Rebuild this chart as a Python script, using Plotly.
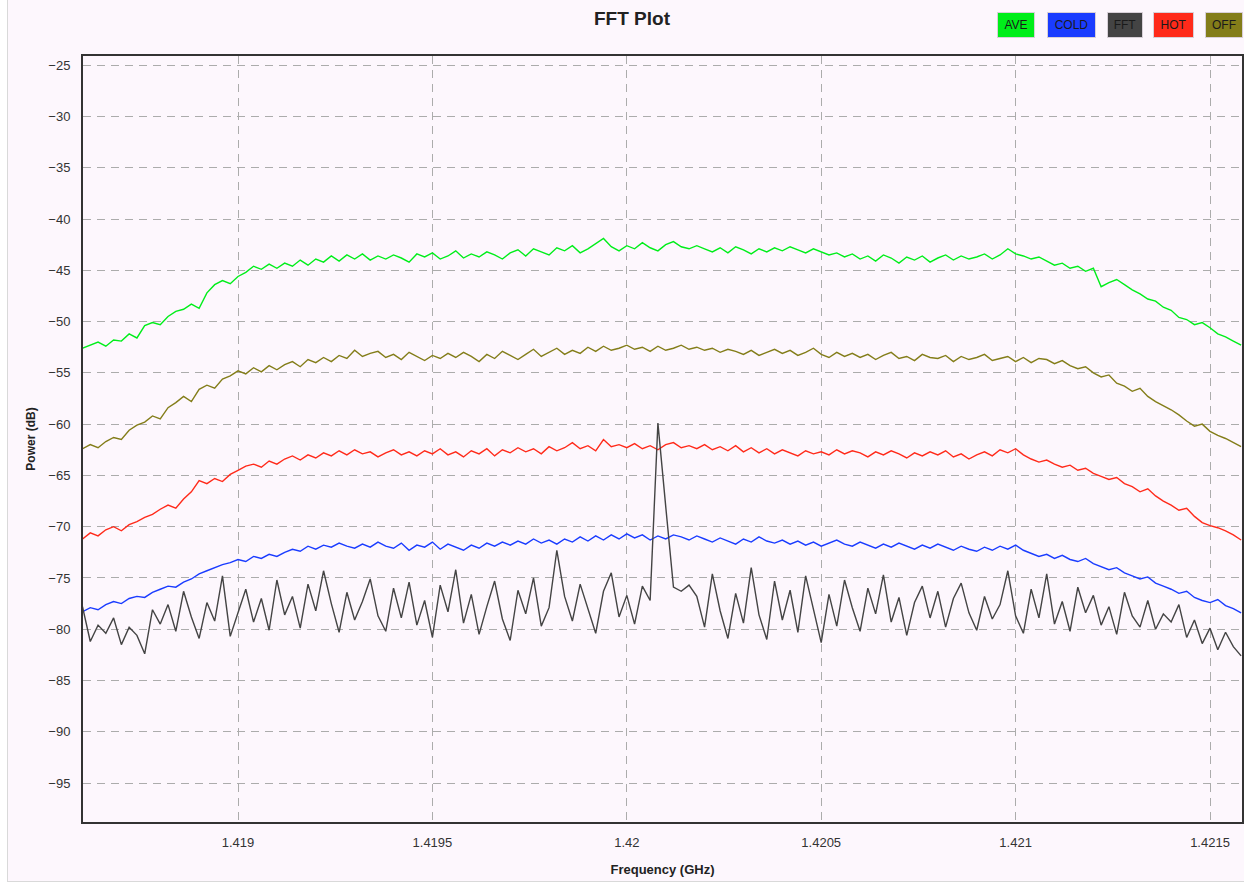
import plotly.graph_objects as go

# ---------------- data ----------------
freq_start = 1.4186      # GHz, first FFT bin shown
freq_step = 0.00002      # GHz per bin (sampled)
n_points = 150
freqs = [round(freq_start + i * freq_step, 6) for i in range(n_points)]

series_names = ["AVE", "COLD", "FFT", "HOT", "OFF"]

ave = [
    -52.6, -52.3, -52.0, -52.4, -51.8, -51.9, -51.2, -51.6, -50.4, -50.1,
    -50.3, -49.5, -49.0, -48.8, -48.3, -48.7, -47.2, -46.4, -46.0, -46.3,
    -45.6, -45.2, -44.6, -44.9, -44.4, -44.8, -44.3, -44.6, -44.0, -44.5,
    -43.9, -44.2, -43.6, -44.1, -43.5, -43.9, -43.4, -44.0, -43.6, -43.9,
    -43.5, -43.8, -44.2, -43.4, -43.7, -43.3, -43.9, -43.6, -43.1, -43.8,
    -43.4, -43.7, -43.2, -43.5, -43.9, -43.3, -43.0, -43.6, -42.9, -43.2,
    -43.5, -42.8, -43.1, -42.6, -43.3, -42.9, -42.4, -41.9, -42.7, -43.1,
    -42.6, -42.9, -42.3, -42.8, -43.1, -42.5, -42.2, -42.7, -42.9, -42.6,
    -42.9, -43.2, -42.8, -43.3, -42.7, -43.0, -43.4, -42.9, -43.2, -42.8,
    -43.1, -42.7, -43.0, -43.3, -42.9, -43.2, -43.5, -43.3, -43.7, -43.4,
    -43.9, -43.6, -44.1, -43.5, -43.8, -44.3, -43.7, -44.0, -43.6, -44.2,
    -43.8, -43.5, -44.0, -43.6, -43.9, -43.7, -43.4, -43.9, -43.5, -42.9,
    -43.4, -43.6, -43.9, -43.7, -44.1, -44.5, -44.3, -44.8, -44.6, -45.1,
    -44.8, -46.6, -46.2, -45.9, -46.4, -46.9, -47.3, -47.8, -48.0, -48.6,
    -48.9, -49.6, -49.8, -50.3, -50.1, -50.6, -51.2, -51.5, -51.9, -52.3,
]

off = [
    -62.4, -62.0, -62.3, -61.7, -61.3, -61.5, -60.6, -60.1, -59.8, -59.2,
    -59.5, -58.4, -57.9, -57.3, -57.8, -56.6, -56.2, -56.5, -55.6, -55.3,
    -54.8, -55.1, -54.5, -54.9, -54.3, -54.7, -54.2, -53.9, -54.4, -53.7,
    -54.0, -53.5, -53.9, -53.3, -53.6, -52.8, -53.4, -53.1, -52.9, -53.5,
    -53.2, -53.7, -53.0, -53.4, -53.8, -53.3, -53.6, -53.1, -53.5, -53.0,
    -53.4, -53.9, -53.2, -53.6, -52.9, -53.3, -53.7, -53.2, -52.7, -53.4,
    -53.0, -52.6, -53.2, -52.8, -53.1, -52.5, -52.9, -52.4, -52.8, -52.6,
    -52.3, -52.7, -52.5, -52.9, -52.4, -52.8, -52.6, -52.3, -52.7, -52.5,
    -52.8, -52.6, -53.0, -52.7, -52.9, -53.2, -52.8, -53.3, -53.0, -52.7,
    -53.1, -52.8, -53.3, -53.0, -52.6, -53.2, -53.5, -53.0, -53.4, -53.1,
    -53.5, -53.2, -53.7, -53.3, -53.0, -53.6, -53.4, -53.8, -53.2, -53.5,
    -53.6, -53.3, -53.9, -53.4, -53.7, -53.5, -53.2, -53.8, -53.6, -53.4,
    -53.9, -53.5, -54.0, -53.6, -53.7, -54.1, -53.8, -54.3, -54.6, -54.4,
    -55.0, -55.4, -55.2, -56.0, -56.3, -56.8, -56.5, -57.3, -57.8, -58.2,
    -58.6, -59.1, -59.7, -60.2, -60.0, -60.7, -61.1, -61.4, -61.8, -62.2,
]

hot = [
    -71.2, -70.6, -70.9, -70.3, -70.0, -70.4, -69.8, -69.5, -69.1, -68.8,
    -68.3, -67.9, -68.2, -67.3, -66.6, -65.5, -65.8, -65.3, -65.6, -64.9,
    -64.5, -64.1, -63.9, -64.2, -63.6, -63.9, -63.4, -63.1, -63.5, -63.0,
    -63.3, -62.8, -63.1, -62.6, -63.0, -62.5, -62.9, -62.7, -63.2, -62.8,
    -62.5, -63.0, -62.7, -63.1, -62.6, -62.9, -62.4, -63.0, -62.7, -63.2,
    -62.6, -62.9, -62.4, -63.1, -62.5, -62.8, -62.3, -62.7, -62.4, -62.9,
    -62.2, -62.6, -62.3, -61.8, -62.4, -62.1, -62.6, -61.5, -62.2, -62.0,
    -62.3, -61.9, -62.4, -62.1, -62.5, -62.0, -61.8, -62.3, -62.1, -62.4,
    -62.0, -62.5, -62.2, -62.6, -62.1, -62.7, -62.3, -62.8, -62.4, -62.9,
    -62.5, -62.8, -63.1, -62.6, -62.9, -62.7, -63.0, -62.5, -62.9, -62.6,
    -62.8, -63.2, -62.7, -63.0, -62.6, -62.9, -63.3, -62.8, -63.1, -62.7,
    -63.0, -62.6, -63.2, -62.9, -63.4, -63.0, -62.7, -63.1, -62.5, -62.8,
    -62.4, -63.0, -63.4, -63.7, -63.5, -63.9, -64.2, -64.0, -64.5, -64.3,
    -64.8, -65.1, -65.4, -65.2, -65.8, -66.1, -66.6, -66.3, -67.0, -67.5,
    -67.9, -68.4, -68.2, -69.0, -69.6, -69.9, -70.1, -70.4, -70.8, -71.3,
]

cold = [
    -78.3, -77.9, -78.1, -77.6, -77.3, -77.5, -77.0, -76.8, -76.9, -76.4,
    -76.1, -75.8, -75.9, -75.4, -75.1, -74.6, -74.3, -74.0, -73.7, -73.5,
    -73.2, -73.4, -72.9, -73.1, -72.7, -72.9, -72.5, -72.2, -72.4, -71.9,
    -72.2, -71.8, -72.0, -71.6, -71.9, -72.1, -71.7, -72.0, -71.5, -71.9,
    -72.1, -71.6, -72.3, -71.8, -72.0, -71.5, -72.2, -71.7, -72.0, -72.3,
    -71.8, -72.1, -71.6, -71.9, -71.5, -71.8, -71.4, -71.7, -71.2, -71.6,
    -71.3, -71.7, -71.2, -71.5, -71.0, -71.4, -70.9, -71.3, -70.8, -71.2,
    -70.7, -71.1, -70.8, -71.3, -70.9, -71.2, -70.8, -71.0, -71.3, -70.9,
    -71.2, -71.5, -71.1, -71.4, -71.7, -71.2, -71.5, -71.0, -71.4, -71.6,
    -71.3, -71.7, -71.4, -71.8, -71.5, -71.9, -71.6, -71.3, -71.7, -71.9,
    -71.5, -71.8, -72.1, -71.7, -72.0, -71.6, -71.9, -72.2, -71.8, -72.1,
    -71.7, -72.0, -72.3, -71.9, -72.2, -72.4, -72.0, -72.3, -71.9, -72.2,
    -71.8, -72.3, -72.6, -72.9, -72.7, -73.1, -72.8, -73.2, -73.4, -73.1,
    -73.6, -73.9, -74.2, -74.0, -74.5, -74.8, -75.1, -74.9, -75.5, -75.8,
    -76.1, -76.5, -76.3, -76.9, -77.2, -77.4, -77.1, -77.7, -78.0, -78.4,
]

fft = [
    -77.8, -81.2, -79.6, -80.4, -78.9, -81.5, -79.8, -80.6, -82.4, -78.1,
    -79.5, -77.6, -80.2, -76.3, -78.8, -80.9, -77.4, -79.2, -74.8, -80.7,
    -78.4, -76.1, -79.3, -77.0, -80.1, -75.2, -78.6, -76.8, -79.9, -75.6,
    -78.2, -74.3, -77.5, -80.3, -76.4, -79.1, -77.3, -75.1, -78.7, -80.2,
    -76.0, -78.9, -75.4, -79.6, -77.2, -80.8, -75.7, -78.3, -74.2, -79.4,
    -76.6, -80.5, -77.8, -75.3, -79.0, -81.1, -76.2, -78.5, -75.0, -79.7,
    -77.9, -72.3, -76.8, -79.2, -75.6, -78.1, -80.4, -76.3, -74.5, -78.8,
    -76.7, -79.5, -75.8, -77.2, -59.9, -68.0, -75.9, -76.3, -75.7, -76.8,
    -79.8, -74.6, -78.2, -80.9, -76.5, -79.4, -74.0, -78.6, -81.0, -75.3,
    -79.1, -76.2, -80.3, -74.8, -78.0, -81.3, -76.6, -79.7, -75.2, -77.9,
    -80.2, -76.0, -78.5, -74.7, -79.3, -76.9, -80.6, -77.4, -75.8, -78.9,
    -76.3, -79.8, -77.0, -75.5, -78.4, -80.1, -76.8, -79.0, -77.6, -74.3,
    -78.7, -80.4, -76.1, -78.9, -74.6, -79.5, -77.3, -80.2, -75.9, -78.4,
    -76.7, -79.6, -77.8, -80.5, -76.4, -78.7, -79.8, -77.2, -80.0, -78.5,
    -79.3, -77.6, -80.8, -79.1, -81.4, -79.9, -82.0, -80.3, -81.7, -82.6,
]

x_tick_vals = [1.419, 1.4195, 1.42, 1.4205, 1.421, 1.4215]
x_tick_text = ["1.419", "1.4195", "1.42", "1.4205", "1.421", "1.4215"]

# ---------------- style ----------------
colors = {
    "AVE": "#00ee1a",
    "COLD": "#1a3cff",
    "FFT": "#444444",
    "HOT": "#ff2a1a",
    "OFF": "#837d19",
}
values = {"AVE": ave, "COLD": cold, "FFT": fft, "HOT": hot, "OFF": off}
draw_order = ["AVE", "OFF", "HOT", "COLD", "FFT"]

# the page gets a white 8px strip on the left (7px margin + 1px border), none on top
OFF_X, OFF_Y = 8, 0
W, H = 1244 - OFF_X, 881 - OFF_Y
ML, MR, MT, MB = 83 - OFF_X, 2, 56 - OFF_Y, 881 - 822
BG = "#fdf7fd"
FONT = "Liberation Sans, Arial, sans-serif"

fig = go.Figure()
for name in draw_order:
    fig.add_trace(go.Scatter(
        x=freqs, y=values[name], mode="lines", name=name,
        line=dict(color=colors[name], width=1.4),
        showlegend=False,
    ))

def page_to_paper(px, py):
    """convert page pixel position to plot-area paper coords"""
    fx, fy = px - OFF_X, py - OFF_Y
    pw = W - ML - MR
    ph = H - MT - MB
    return (fx - ML) / pw, (H - MB - fy) / ph

# legend chips (coloured boxes with text, as in the reference)
legend_boxes = {
    "AVE": (1016, 25, 38), "COLD": (1071, 25, 49), "FFT": (1124.5, 25, 36),
    "HOT": (1173.5, 25, 41), "OFF": (1223.5, 25, 38),
}
for name in series_names:
    cx, cy, w = legend_boxes[name]
    ax, ay = page_to_paper(cx, cy)
    fig.add_annotation(
        x=ax, y=ay, xref="paper", yref="paper", xanchor="center", yanchor="middle",
        text=name, showarrow=False, width=w - 2, height=24,
        bgcolor=colors[name], bordercolor="#d8d0d8", borderwidth=1, borderpad=0,
        font=dict(family=FONT, size=12, color="#1a1a1a"),
    )

fig.update_layout(
    width=W, height=H,
    margin=dict(l=ML, r=MR, t=MT, b=MB, autoexpand=False),
    paper_bgcolor=BG, plot_bgcolor=BG,
    font=dict(family=FONT, color="#333333"),
    title=dict(text="FFT Plot", x=(632 - OFF_X) / W, xref="container", xanchor="center",
               y=1 - (18 - OFF_Y) / H, yref="container", yanchor="middle",
               font=dict(family=FONT, size=19, color="#222222", weight="bold")),
    xaxis=dict(
        range=[1.4186013, 1.4215823], tickvals=x_tick_vals, ticktext=x_tick_text,
        showgrid=True, gridcolor="#acacac", gridwidth=1.2, griddash="8px,6px",
        showline=True, linecolor="#333333", linewidth=2, mirror=True,
        zeroline=False, ticks="", ticklabelstandoff=7,
        tickfont=dict(family=FONT, size=13, color="#333333"),
        title=dict(text="Frequency (GHz)", standoff=16,
                   font=dict(family=FONT, size=13, color="#222222", weight="bold")),
    ),
    yaxis=dict(
        range=[-98.8, -24.1], tick0=-25, dtick=5,
        showgrid=True, gridcolor="#acacac", gridwidth=1.2, griddash="8px,6px",
        showline=True, linecolor="#333333", linewidth=2, mirror=True,
        zeroline=False, ticks="", ticklabelstandoff=8,
        tickfont=dict(family=FONT, size=13, color="#333333"),
        title=dict(text="Power (dB)", standoff=10,
                   font=dict(family=FONT, size=12, color="#222222", weight="bold")),
    ),
)

page_css = (
    "document.body.style.margin='0 0 0 7px';"
    "document.body.style.borderLeft='1px solid #d9d9d9';"
    "document.body.style.borderBottom='1px solid #d9d9d9';"
    "document.body.style.background='#ffffff';"
)
fig.write_html("out.html", post_script=page_css)
